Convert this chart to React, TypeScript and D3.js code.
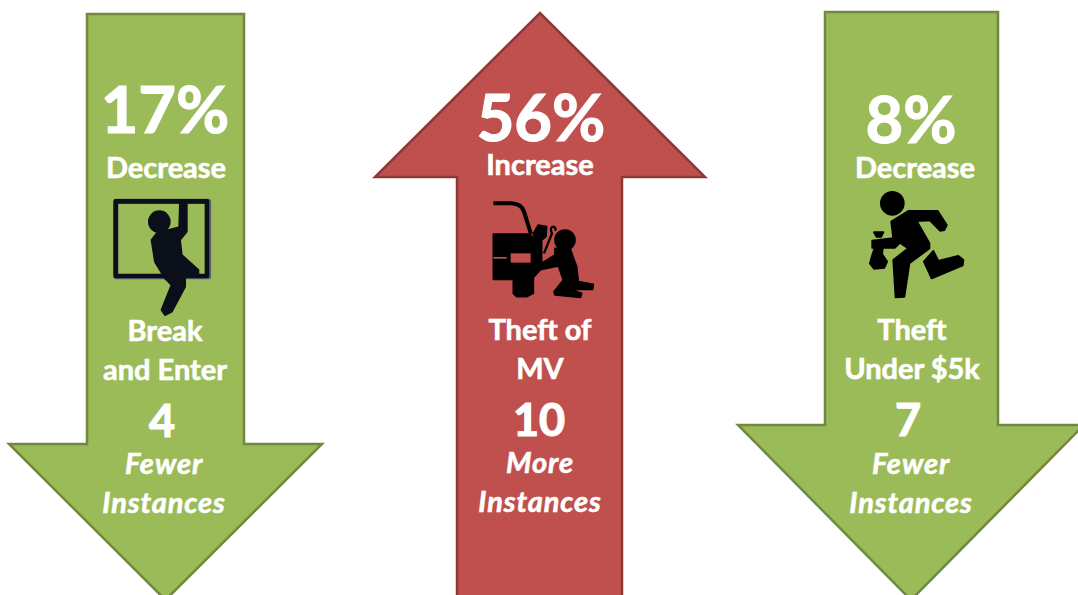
import React from "react";
import * as d3 from "d3";

const WIDTH = 1078;
const HEIGHT = 595;
const GREEN = "#9BBB59";
const GREEN_EDGE = "#71893F";
const RED = "#C0504D";
const RED_EDGE = "#8C3836";
const FONT = "Lato, Carlito, sans-serif";

const percentLabels = ["17%", "56%", "8%"];
const changeLabels = ["Decrease", "Increase", "Decrease"];
const crimeLine1 = ["Break", "Theft of", "Theft"];
const crimeLine2 = ["and Enter", "MV", "Under $5k"];
const counts = ["4", "10", "7"];
const countWords = ["Fewer", "More", "Fewer"];
const instanceWord = ["Instances", "Instances", "Instances"];
const directions = ["down", "up", "down"];

const line = d3.line<[number, number]>();

function arrowPath(l: number, r: number, hl: number, hr: number, tail: number, neck: number, tip: number) {
  const cx = (hl + hr) / 2;
  return line([
    [l, tail], [r, tail], [r, neck], [hr, neck], [cx, tip], [hl, neck], [l, neck],
  ] as [number, number][]) + "Z";
}

const arrowGeom = [
  { l: 87, r: 244, hl: 9, hr: 322, tail: 14, neck: 444, tip: 600 },
  { l: 457, r: 622, hl: 375, hr: 705, tail: 600, neck: 177, tip: 13 },
  { l: 825, r: 998, hl: 738, hr: 1084, tail: 12, neck: 425, tip: 600 },
];

const layout = [
  { pct: [165, 133], chg: [166, 178], c1: [165, 341], c2: [165, 380], n: [162, 437], w: [164, 474], i: [164, 513] },
  { pct: [541, 141], chg: [540, 175], c1: [540, 340], c2: [540, 379], n: [539, 436], w: [540, 473], i: [540, 512] },
  { pct: [911, 143], chg: [915, 178], c1: [912, 340], c2: [912, 379], n: [908, 436], w: [911, 474], i: [911, 513] },
];

function poly(points: [number, number][]) {
  return line(points) + "Z";
}

const BurglarIcon = () => (
  <g transform="translate(90,190) scale(0.3333)" fill="#0A0F1A" stroke="#0A0F1A" strokeWidth={6} strokeLinejoin="round">
    <rect x={78} y={34} width={278} height={226} fill="none" stroke="#5f6672" strokeWidth={15} />
    <rect x={77} y={34} width={274} height={224} fill="none" strokeWidth={14} />
    <circle cx={208} cy={95} r={31} />
    <path
      d={poly([
        [270, 42], [290, 42], [290, 125], [270, 150], [275, 195], [325, 240], [325, 252], [285, 255],
        [285, 290], [245, 365], [225, 375], [215, 360], [245, 285], [225, 265], [195, 215], [185, 150],
        [200, 130], [268, 112],
      ])}
    />
  </g>
);

const CarThiefIcon = () => (
  <g transform="translate(470,190) scale(0.3333)" stroke="#000" strokeWidth={5} strokeLinejoin="round">
    <path d="M70,40 L125,40 Q155,42 162,65 L183,132" fill="none" strokeWidth={12} />
    <path
      d={poly([
        [70, 132], [180, 132], [195, 150], [215, 200], [215, 235], [190, 262], [190, 310], [170, 320],
        [140, 320], [130, 310], [130, 268], [70, 268],
      ])}
    />
    <path d={poly([[190, 130], [205, 105], [230, 110], [228, 140], [215, 150], [215, 195], [200, 170]])} />
    <rect x={122} y={190} width={60} height={28} fill={RED} stroke="none" />
    <rect x={70} y={201} width={40} height={5} fill={RED} stroke="none" />
    <path d="M222,190 L246,130 Q238,112 250,110 Q258,112 256,122" fill="none" strokeWidth={7} />
    <circle cx={285} cy={150} r={30} />
    <path
      d={poly([
        [255, 175], [300, 175], [320, 230], [325, 275], [370, 283], [368, 298], [300, 298], [335, 310],
        [332, 322], [255, 315], [252, 305], [280, 270], [265, 228], [215, 238], [215, 220], [255, 195],
      ])}
    />
  </g>
);

const RunnerIcon = () => (
  <g transform="translate(850,180) scale(0.3333)" stroke="#000" strokeWidth={6} strokeLinejoin="round">
    <circle cx={127} cy={70} r={34} />
    <path
      d={poly([
        [175, 93], [263, 93], [290, 135], [283, 150], [270, 152], [240, 121], [200, 123], [238, 190],
        [238, 205], [178, 250], [163, 350], [137, 352], [130, 240], [175, 205], [150, 188], [135, 203],
        [67, 203], [67, 182], [130, 175], [124, 125],
      ])}
    />
    <path d={poly([[222, 245], [250, 213], [265, 243], [325, 228], [340, 240], [338, 256], [245, 295]])} />
    <path d={poly([[72, 157], [100, 157], [93, 170], [80, 170]])} />
    <path d={poly([[74, 205], [98, 205], [96, 222], [111, 245], [103, 263], [72, 266], [60, 250], [67, 225]])} />
  </g>
);

const icons = [BurglarIcon, CarThiefIcon, RunnerIcon];

const T = ({ p, size, italic, text, spacing = 0 }: { p: number[]; size: number; italic?: boolean; text: string; spacing?: number }) => (
  <text
    x={p[0]}
    y={p[1]}
    textAnchor="middle"
    fontFamily={FONT}
    fontWeight={700}
    fontStyle={italic ? "italic" : "normal"}
    fontSize={size}
    letterSpacing={spacing}
    fill="#fff"
    stroke="#fff"
    strokeWidth={size > 40 ? 1.2 : 0.6}
  >
    {text}
  </text>
);

export default function App() {
  return (
    <svg
      width={WIDTH}
      height={HEIGHT}
      viewBox={`0 0 ${WIDTH} ${HEIGHT}`}
      style={{ position: "fixed", left: 0, top: 0, background: "#fff", display: "block" }}
    >
      {arrowGeom.map((a, i) => (
        <path
          key={i}
          d={arrowPath(a.l, a.r, a.hl, a.hr, a.tail, a.neck, a.tip)}
          fill={directions[i] === "up" ? RED : GREEN}
          stroke={directions[i] === "up" ? RED_EDGE : GREEN_EDGE}
          strokeWidth={2.5}
          strokeLinejoin="miter"
        />
      ))}
      {layout.map((l, i) => {
        const Icon = icons[i];
        return (
          <g key={i}>
            <T p={l.pct} size={65} text={percentLabels[i]} />
            <T p={l.chg} size={29} text={changeLabels[i]} />
            <Icon />
            <T p={l.c1} size={29} text={crimeLine1[i]} />
            <T p={l.c2} size={29} text={crimeLine2[i]} />
            <T p={l.n} size={45} text={counts[i]} />
            <T p={l.w} size={29} italic spacing={0.9} text={countWords[i]} />
            <T p={l.i} size={29} italic spacing={0.9} text={instanceWord[i]} />
          </g>
        );
      })}
    </svg>
  );
}
